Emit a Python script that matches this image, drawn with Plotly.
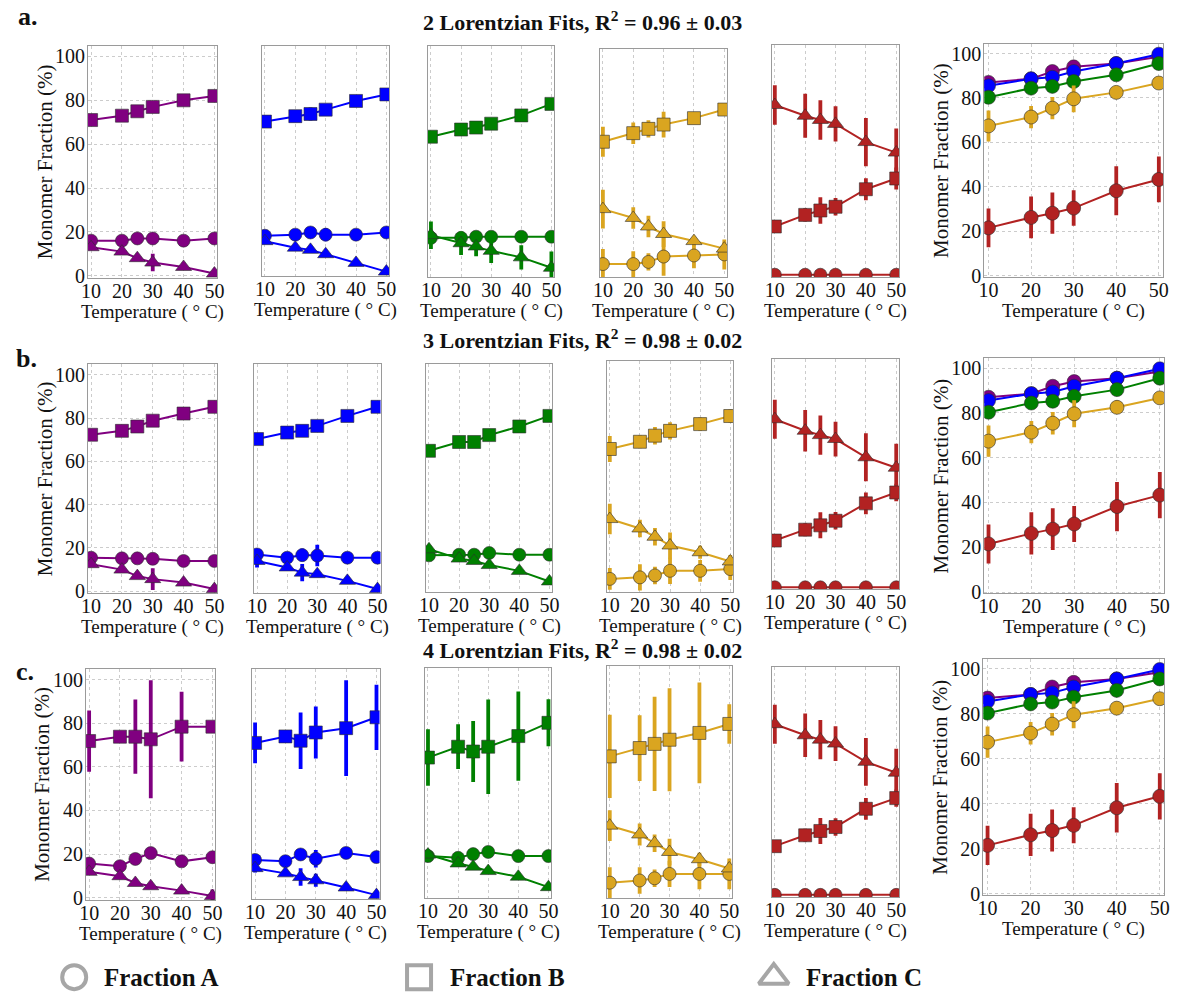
import plotly.graph_objects as go

W, H = 1178, 1001

# Temperatures (deg C) at which the monomer fractions were measured
temps = [10, 20, 25, 30, 40, 50]
temp_ticks = [10, 20, 30, 40, 50]
frac_ticks = [0, 20, 40, 60, 80, 100]

# one colour per sample, same order in every list below
colors = ["#800080", "#0000ff", "#008000", "#daa520", "#b22222"]

row_titles = [
    "2 Lorentzian Fits, R<sup>2</sup> = 0.96 ± 0.03",
    "3 Lorentzian Fits, R<sup>2</sup> = 0.98 ± 0.02",
    "4 Lorentzian Fits, R<sup>2</sup> = 0.98 ± 0.02",
]
row_letters = ["a.", "b.", "c."]

# ---- 2 Lorentzian fits ----
a_A = [
    [16, 16, 17, 17, 16, 17],
    [17.5, 18, 19, 18, 18, 19],
    [17, 17, 17.5, 17.5, 17.5, 17.5],
    [5, 5, 6, 8.5, 9, 9.5],
    [0, 0, 0, 0, 0, 0],
]
a_A_err = [
    [1, 1, 1, 1, 1, 1],
    [1, 1, 1.5, 3, 1, 1.5],
    [1, 1, 1, 1, 1, 1],
    [7, 6, 4, 9, 6, 7],
    [0, 0, 0, 0, 0, 0],
]
a_B = [
    [71, 73, 75, 77, 80, 82],
    [70, 72.5, 73.5, 75.5, 79.5, 82.5],
    [63.5, 66.8, 67.7, 69.5, 73.3, 78.6],
    [62, 66, 68, 70, 73, 77],
    [22, 27.3, 29.3, 31, 39, 43.9],
]
a_B_err = [
    [1, 1, 1, 1, 1, 2.5],
    [3, 2, 3, 2, 2, 2],
    [1, 1, 1, 1, 1, 2],
    [7, 5, 4, 6, 2, 1],
    [1, 3, 6, 4, 5, 5],
]
a_C = [
    [13, 11, 8, 6, 4, 1],
    [15, 12, 11, 9, 5, 1],
    [18.2, 14.5, 13, 11, 8, 3.2],
    [30.6, 26.5, 22.5, 19, 15.7, 12.2],
    [77.4, 72.5, 70.6, 68.8, 60.5, 55.7],
]
a_C_err = [
    [1, 1, 1, 4, 1, 1],
    [1, 1, 1, 1, 1, 1],
    [6.3, 5.4, 4.5, 5.6, 5.6, 7.5],
    [9, 5, 5, 6, 2, 3],
    [9, 10, 9, 8, 11, 11],
]

# ---- 3 Lorentzian fits ----
b_A = [
    [15.5, 15.2, 15.2, 15, 14, 14],
    [17, 15.5, 16.7, 16.5, 15.5, 15.5],
    [16.2, 16.5, 16.5, 17.3, 16.5, 16.5],
    [5.2, 5.9, 6.8, 8.9, 8.9, 9.7],
    [0, 0, 0, 0, 0, 0],
]
b_A_err = [
    [1, 1, 1, 1, 1, 1],
    [1, 1, 3, 5, 1, 1],
    [1, 1, 1, 1, 1, 1],
    [5, 6, 4, 6, 5, 5],
    [0, 0, 0, 0, 0, 0],
]
b_B = [
    [72.3, 74.1, 76.1, 78.8, 82.1, 85.2],
    [70.3, 73.3, 74.1, 76.4, 81, 85.2],
    [64.7, 68.8, 68.8, 72, 76, 80.9],
    [64.7, 68, 70.8, 73, 76.1, 79.8],
    [21.5, 26.5, 28.5, 30.6, 38.6, 43.6],
]
b_B_err = [
    [1, 1, 1, 1, 1, 2.5],
    [1, 1, 1, 1, 1, 1.5],
    [1, 1, 1, 1, 1, 2],
    [6, 3, 4, 4, 3, 3],
    [1, 3, 6, 4, 5, 4],
]
b_C = [
    [12.5, 10, 7, 5.6, 4, 1],
    [14, 11, 8.6, 7.9, 4.8, 1],
    [19, 14.7, 13.6, 11.7, 9, 4.1],
    [32.6, 28.3, 24.5, 20.5, 17.4, 13.2],
    [77.3, 72, 70, 68.2, 59.8, 55],
]
b_C_err = [
    [1, 1, 1, 5, 1, 1],
    [3, 1, 4, 1, 1, 1],
    [1, 1, 1, 1, 1, 1],
    [7, 4, 4, 6, 3, 3],
    [9, 9.5, 9, 8, 11, 11],
]

# ---- 4 Lorentzian fits ----
c_A = [
    [15.7, 14.5, 17.8, 20.5, 16.7, 18.6],
    [17, 16.4, 19.5, 17.5, 20.2, 18.3],
    [18.3, 17.5, 19.2, 20.2, 18.3, 18.3],
    [6, 7, 8, 10, 10, 10],
    [0, 0, 0, 0, 0, 0],
]
c_A_err = [
    [1, 1, 1, 1, 1, 1],
    [1, 1, 1, 4, 1, 2],
    [1, 1, 1, 1, 1, 1],
    [7, 6, 4, 6, 7, 7],
    [0, 0, 0, 0, 0, 0],
]
c_B = [
    [71.8, 73.8, 73.8, 72.6, 78.4, 78.4],
    [70.8, 73.8, 71.8, 75.6, 77.6, 82.6],
    [63.6, 68.6, 66.4, 68.6, 73.5, 79.6],
    [63.6, 67.4, 69.3, 71.2, 74.3, 78.4],
    [22.4, 27.4, 29.4, 31.2, 39.6, 44.5],
]
c_B_err = [
    [14, 1, 17, 27, 16, 1],
    [9.4, 1, 13, 12, 22, 15],
    [13, 10.3, 14, 21.7, 20.5, 10.8],
    [19, 15, 21.5, 23.5, 23, 9],
    [1, 3, 6, 4, 5, 4],
]
c_C = [
    [11.9, 9.9, 6.8, 5.3, 3.3, 0.8],
    [13.2, 10.8, 9.1, 7.6, 4.3, 0.8],
    [19, 14.9, 13.4, 11.4, 8.8, 4],
    [32, 28, 24, 20, 16.7, 12.5],
    [78.5, 73.4, 71.4, 69.6, 61.2, 56.2],
]
c_C_err = [
    [1, 1, 1, 1, 1, 3],
    [2, 1, 4, 3, 1, 1],
    [1, 1, 1, 1, 1, 1],
    [7, 5, 4, 6, 3, 3],
    [9, 10, 9, 8, 11, 11],
]

# ---- total monomer fraction per sample (right-hand panels) ----
total = [
    [87, 88.6, 91.9, 94, 95.5, 98.5],
    [85.5, 88.6, 89.3, 91.9, 95.5, 99.7],
    [80.3, 84.4, 85.2, 87.4, 90.4, 95.5],
    [67.4, 71.4, 75.4, 79.6, 82.5, 86.7],
    [21.5, 26.2, 28.1, 30.4, 38.2, 43.3],
]
total_err = [
    [1, 1, 1, 1, 1, 1],
    [1, 1, 1, 1, 1, 1],
    [1, 1, 1, 1, 1, 2],
    [7, 5, 5, 6, 3, 1],
    [8.7, 9.4, 9.3, 8, 11, 10.3],
]

rows = [
    (a_A, a_A_err, a_B, a_B_err, a_C, a_C_err),
    (b_A, b_A_err, b_B, b_B_err, b_C, b_C_err),
    (c_A, c_A_err, c_B, c_B_err, c_C, c_C_err),
]

# panel boxes in pixels: (left, right, top, bottom)
boxes = [
    [(82, 213, 45, 280), (258, 387, 45, 278), (426, 554, 46, 279),
     (600, 729, 49, 279), (774, 903, 44, 279), (989, 1170, 43, 279)],
    [(82, 213, 367, 599), (250, 378, 367, 599), (424, 552, 367, 598),
     (607, 735, 364, 598), (774, 903, 362, 595), (989, 1171, 361, 599)],
    [(80, 211, 675, 909), (248, 377, 675, 908), (423, 551, 674, 907),
     (607, 734, 672, 907), (774, 903, 673, 906), (988, 1171, 665, 904)],
]
title_y = [20, 342, 655]
letter_pos = [(21, 16), (20, 361), (18, 678)]

SERIF = "Liberation Serif, Times New Roman, DejaVu Serif, serif"
symbols = {"A": ("circle", 13), "B": ("square", 13), "C": ("triangle-up", 14)}
EDGE = "rgba(45,45,45,0.75)"

fig = go.Figure()
layout = {}
annotations = []


def add_series(xa, ya, y, err, color, symbol, size):
    fig.add_trace(go.Scatter(
        x=temps, y=y, mode="lines+markers",
        line=dict(color=color, width=2),
        marker=dict(symbol=symbol, size=size, color=color,
                    line=dict(color=EDGE, width=0.8)),
        error_y=dict(type="data", array=err, color=color,
                     thickness=3.8, width=0),
        xaxis=xa, yaxis=ya, showlegend=False, cliponaxis=True,
    ))


n = 0
for r in range(3):
    A, A_err, B, B_err, C, C_err = rows[r]
    for p in range(6):
        n += 1
        sfx = "" if n == 1 else str(n)
        xa, ya = "x" + sfx, "y" + sfx
        L, R, T, Bt = boxes[r][p]
        labelled = p in (0, 5)
        layout["xaxis" + sfx] = dict(
            domain=[L / W, R / W], anchor=ya, range=[9, 51],
            tickvals=temp_ticks, ticks="", ticklen=0, ticklabelstandoff=-5,
            showgrid=True, gridcolor="#cccccc", griddash="dot", gridwidth=1,
            showline=True, mirror=True, linecolor="#9a9a9a", linewidth=1,
            tickfont=dict(family=SERIF, size=20, color="#111"),
            zeroline=False, fixedrange=True,
        )
        layout["yaxis" + sfx] = dict(
            domain=[1 - Bt / H, 1 - T / H], anchor=xa,
            range=[-0.6, 104.5] if p == 5 else [-1, 105],
            tickvals=frac_ticks, ticks="", ticklen=0, ticklabelstandoff=-2,
            showticklabels=labelled,
            showgrid=labelled, gridcolor="#cccccc", griddash="dot",
            gridwidth=1, showline=True, mirror=True, linecolor="#9a9a9a",
            linewidth=1, tickfont=dict(family=SERIF, size=20, color="#111"),
            zeroline=False, fixedrange=True,
        )
        if p < 5:
            add_series(xa, ya, A[p], A_err[p], colors[p], *symbols["A"])
            add_series(xa, ya, C[p], C_err[p], colors[p], *symbols["C"])
            add_series(xa, ya, B[p], B_err[p], colors[p], *symbols["B"])
        else:
            for k in range(5):
                add_series(xa, ya, total[k], total_err[k], colors[k], "circle", 14)

        # x-axis title
        annotations.append(dict(
            text="Temperature ( ° C)", xref="paper", yref="paper",
            x=(L + R) / 2 / W, y=1 - (Bt + 34) / H, showarrow=False,
            xanchor="center", yanchor="middle",
            font=dict(family=SERIF, size=19, color="#111"),
        ))
        if labelled:
            annotations.append(dict(
                text="Monomer Fraction (%)", xref="paper", yref="paper",
                x=(L - 44) / W, y=1 - (T + Bt) / 2 / H, showarrow=False,
                textangle=-90, xanchor="center", yanchor="middle",
                font=dict(family=SERIF, size=21, color="#111"),
            ))

    annotations.append(dict(
        text="<b>" + row_titles[r] + "</b>", xref="paper", yref="paper",
        x=582 / W, y=1 - title_y[r] / H, showarrow=False,
        xanchor="center", yanchor="middle",
        font=dict(family=SERIF, size=22, color="#111"),
    ))
    lx, ly = letter_pos[r]
    annotations.append(dict(
        text="<b>" + row_letters[r] + "</b>", xref="paper", yref="paper",
        x=lx / W, y=1 - ly / H, showarrow=False,
        xanchor="center", yanchor="middle",
        font=dict(family=SERIF, size=26, color="#111"),
    ))

# key for the three fractions along the bottom
key_names = ["Fraction A", "Fraction B", "Fraction C"]
key_symbols = ["circle-open", "square-open", "triangle-up-open"]
key_x = [68, 417, 776]
key_text_x = [96, 446, 807]
n += 1
sfx = str(n)
layout["xaxis" + sfx] = dict(domain=[0, 1], anchor="y" + sfx, range=[0, W],
                             visible=False, fixedrange=True)
layout["yaxis" + sfx] = dict(domain=[0, 40 / H], anchor="x" + sfx,
                             range=[0, 40], visible=False, fixedrange=True)
fig.add_trace(go.Scatter(
    x=key_x, y=[14, 14, 14], mode="markers",
    marker=dict(symbol=key_symbols, size=[24, 24, 26], color="#808080",
                line=dict(color="#808080", width=4)),
    xaxis="x" + sfx, yaxis="y" + sfx, showlegend=False, cliponaxis=False,
))
for name, tx in zip(key_names, key_text_x):
    annotations.append(dict(
        text="<b>" + name + "</b>", xref="paper", yref="paper",
        x=tx / W, y=14 / H, showarrow=False, xanchor="left",
        yanchor="middle", font=dict(family=SERIF, size=25, color="#111"),
    ))

fig.update_layout(
    width=W, height=H, margin=dict(l=0, r=0, t=0, b=0),
    paper_bgcolor="white", plot_bgcolor="white",
    annotations=annotations, **layout,
)

fig.write_html("out.html", config={"displayModeBar": False})
